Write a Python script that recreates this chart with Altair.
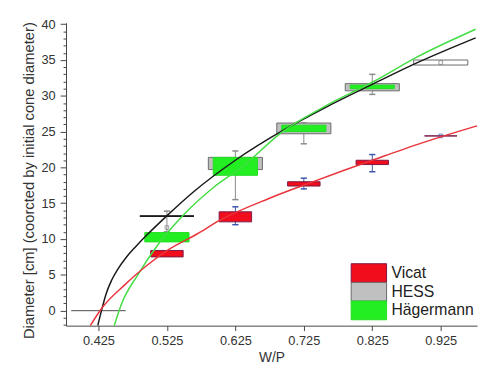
import altair as alt
import pandas as pd

# ---------------- data ----------------
positions = [0.425, 0.525, 0.625, 0.725, 0.825, 0.925]
series_names = ["Vicat", "HESS", "Hägermann"]

vicat_box_lo = [None, 7.5, 12.4, 17.4, 20.4, 24.4]
vicat_box_hi = [None, 8.4, 13.8, 18.0, 21.0, 24.4]
vicat_whisker_lo = [None, None, 12.0, 17.0, 19.4, None]
vicat_whisker_hi = [None, None, 14.5, 18.5, 21.8, None]
vicat_mean = [None, None, None, None, None, 24.4]

hess_box_lo = [0.0, 13.2, 19.7, 24.7, 30.7, 34.3]
hess_box_hi = [0.0, 13.2, 21.4, 26.2, 31.7, 35.0]
hess_whisker_lo = [None, 11.0, 15.5, 23.3, 30.2, None]
hess_whisker_hi = [None, 13.9, 22.3, 26.2, 33.0, None]
hess_mean = [None, 11.6, None, None, None, 34.65]
hess_median = [None, 13.2, None, None, None, None]

hag_box_lo = [None, 9.6, 18.9, 25.0, 31.0, None]
hag_box_hi = [None, 10.9, 21.4, 25.9, 31.5, None]
hag_whisker_lo = [None, None, None, None, None, None]
hag_whisker_hi = [None, None, None, None, None, None]
hag_mean = [None, None, None, None, None, None]

# fitted curves: points
vicat_fit_x = [0.413, 0.432, 0.4634, 0.497, 0.5256, 0.569, 0.602, 0.675, 0.727, 0.784, 0.825, 0.900, 0.978]
vicat_fit_y = [-2.1, 0.6, 3.6, 6.4, 8.4, 10.7, 12.6, 15.7, 17.6, 19.6, 21.0, 23.5, 25.8]
hess_fit_x = [0.424, 0.4294, 0.436, 0.444, 0.454, 0.466, 0.479, 0.492, 0.5256, 0.564, 0.625, 0.697, 0.755, 0.827, 0.890, 0.976]
hess_fit_y = [-2.1, 0.0, 2.3, 4.2, 5.9, 7.5, 8.9, 10.2, 13.3, 16.6, 21.0, 25.3, 28.3, 31.7, 34.6, 38.1]
hag_fit_x = [0.448, 0.4585, 0.4825, 0.511, 0.5495, 0.593, 0.6355, 0.6925, 0.755, 0.827, 0.890, 0.976]
hag_fit_y = [-2.1, 0.9, 5.0, 9.1, 13.4, 17.2, 20.1, 24.9, 28.5, 32.0, 35.4, 39.3]

# ---------------- styling ----------------
half_width = {"Vicat": 0.0237, "HESS": 0.0395, "Hägermann": 0.0323}
cap_half = 0.0045
fill_range = ["#f20d1c", "#c0c0c0", "#22ee22"]
stroke_range = ["#7a1846", "#6a6a6a", "#22dd22"]
whisker_color = {"Vicat": "#3a55a8", "HESS": "#8a8a8a", "Hägermann": "#8a8a8a"}
FONT = "Liberation Sans"

rows = []
for name, lo, hi, wlo, whi, mean in [
    ("Vicat", vicat_box_lo, vicat_box_hi, vicat_whisker_lo, vicat_whisker_hi, vicat_mean),
    ("HESS", hess_box_lo, hess_box_hi, hess_whisker_lo, hess_whisker_hi, hess_mean),
    ("Hägermann", hag_box_lo, hag_box_hi, hag_whisker_lo, hag_whisker_hi, hag_mean),
]:
    hw = half_width[name]
    for i, p in enumerate(positions):
        rows.append(dict(series=name, pos=p, lo=lo[i], hi=hi[i], wlo=wlo[i], whi=whi[i],
                         mean=mean[i], med=(hess_median[i] if name == "HESS" else None),
                         x1=p - hw, x2=p + hw, c1=p - cap_half, c2=p + cap_half))
df = pd.DataFrame(rows)

curves = pd.concat([
    pd.DataFrame({"series": "Vicat", "x": vicat_fit_x, "y": vicat_fit_y}),
    pd.DataFrame({"series": "HESS", "x": hess_fit_x, "y": hess_fit_y}),
    pd.DataFrame({"series": "Hägermann", "x": hag_fit_x, "y": hag_fit_y}),
])
legend_df = pd.DataFrame({"series": series_names})

xs = alt.Scale(domain=[0.3776, 0.978], nice=False, zero=False)
ys = alt.Scale(domain=[-2.1, 40.2], nice=False, zero=False)
x_axis = alt.Axis(values=positions, format=".3f", grid=False, tickSize=5, labelPadding=4,
                  labelFontSize=13, labelFont=FONT, labelColor="#333", domainColor="#444",
                  tickColor="#444", titleFontSize=14, titleFont=FONT, titleFontWeight="normal",
                  titleColor="#333", titlePadding=3, labelFlush=False)
y_axis = alt.Axis(values=list(range(-2, 41)),
                  labelExpr="datum.value % 5 == 0 ? datum.label : ''",
                  tickSize={"condition": {"test": "datum.value % 5 == 0", "value": 6}, "value": 3},
                  grid=False, labelPadding=5, labelFontSize=13, labelFont=FONT, labelColor="#333",
                  domainColor="#444", tickColor="#444", labelOverlap=False, labelFlush=False,
                  titleFontSize=15, titleFont=FONT, titleFontWeight="normal", titleColor="#333",
                  titlePadding=5, titleY=160)
Y_TITLE = "Diameter [cm] (coorcted by initial cone diameter)"


def X(field):
    return alt.X(field, type="quantitative", scale=xs, axis=x_axis, title="W/P")


def Y(field):
    return alt.Y(field, type="quantitative", scale=ys, axis=y_axis, title=Y_TITLE)


fill_scale = alt.Scale(domain=series_names, range=fill_range)
stroke_scale = alt.Scale(domain=series_names, range=stroke_range)
fill_enc = alt.Fill("series:N", scale=fill_scale, legend=None)
stroke_enc = alt.Stroke("series:N", scale=stroke_scale, legend=None)

base = alt.Chart(df)


def whiskers(name):
    src = base.transform_filter(f"datum.series == '{name}' && isValid(datum.wlo)")
    col = whisker_color[name]
    stem = src.mark_rule(color=col, strokeWidth=1).encode(x=X("pos"), y=Y("wlo"), y2="whi")
    cap_lo = src.mark_rule(color=col, strokeWidth=1.5).encode(x=X("c1"), x2="c2", y=Y("wlo"))
    cap_hi = src.mark_rule(color=col, strokeWidth=1.5).encode(x=X("c1"), x2="c2", y=Y("whi"))
    return [stem, cap_lo, cap_hi]


def boxes(name):
    return base.transform_filter(f"datum.series == '{name}' && isValid(datum.lo)").mark_rect(
        strokeWidth=1
    ).encode(x=X("x1"), x2="x2", y=Y("lo"), y2="hi", fill=fill_enc, stroke=stroke_enc,
             fillOpacity=alt.condition("datum.pos > 0.9", alt.value(0), alt.value(1)))


def means(name, color):
    return base.transform_filter(f"datum.series == '{name}' && isValid(datum.mean)").mark_square(
        size=14, filled=False, color=color, strokeWidth=1
    ).encode(x=X("pos"), y=Y("mean"))


median = base.transform_filter("isValid(datum.med)").mark_rule(color="#1a1a1a", strokeWidth=2).encode(
    x=X("x1"), x2="x2", y=Y("med"))


def fit(name, color):
    return alt.Chart(curves).transform_filter(f"datum.series == '{name}'").mark_line(
        color=color, strokeWidth=1.5, interpolate="monotone", clip=True
    ).encode(x=X("x"), y=Y("y"), order="x:Q")


data_layers = (
    whiskers("HESS") + [boxes("HESS"), median, means("HESS", "#777")]
    + [boxes("Hägermann")]
    + whiskers("Vicat") + [boxes("Vicat"), means("Vicat", "#3a55a8")]
    + [fit("HESS", "#1a1a1a"), fit("Hägermann", "#44dd44"), fit("Vicat", "#e8343a")]
)

# legend: swatches stacked on a band scale, labels beside them
legend_y = alt.Y("series:N", scale=alt.Scale(domain=series_names, range=[245, 302],
                                             paddingInner=0, paddingOuter=0), axis=None)
legend_swatch = alt.Chart(legend_df).mark_rect(strokeWidth=1).encode(
    x=alt.value(290), x2=alt.value(326), y=legend_y, fill=fill_enc, stroke=stroke_enc)
legend_label = alt.Chart(legend_df).mark_text(
    align="left", baseline="middle", fontSize=16, font=FONT, color="#222"
).encode(x=alt.value(331), y=legend_y, text="series:N")

chart = alt.layer(
    alt.layer(*data_layers),
    alt.layer(legend_swatch, legend_label),
).resolve_scale(y="independent").properties(
    width=418, height=308,
    padding={"left": 59, "top": 12, "right": 2, "bottom": 39},
    autosize=alt.AutoSizeParams(type="none"),
).configure_view(stroke=None)

chart.save("out.html", embed_options={"renderer": "svg", "actions": False})
